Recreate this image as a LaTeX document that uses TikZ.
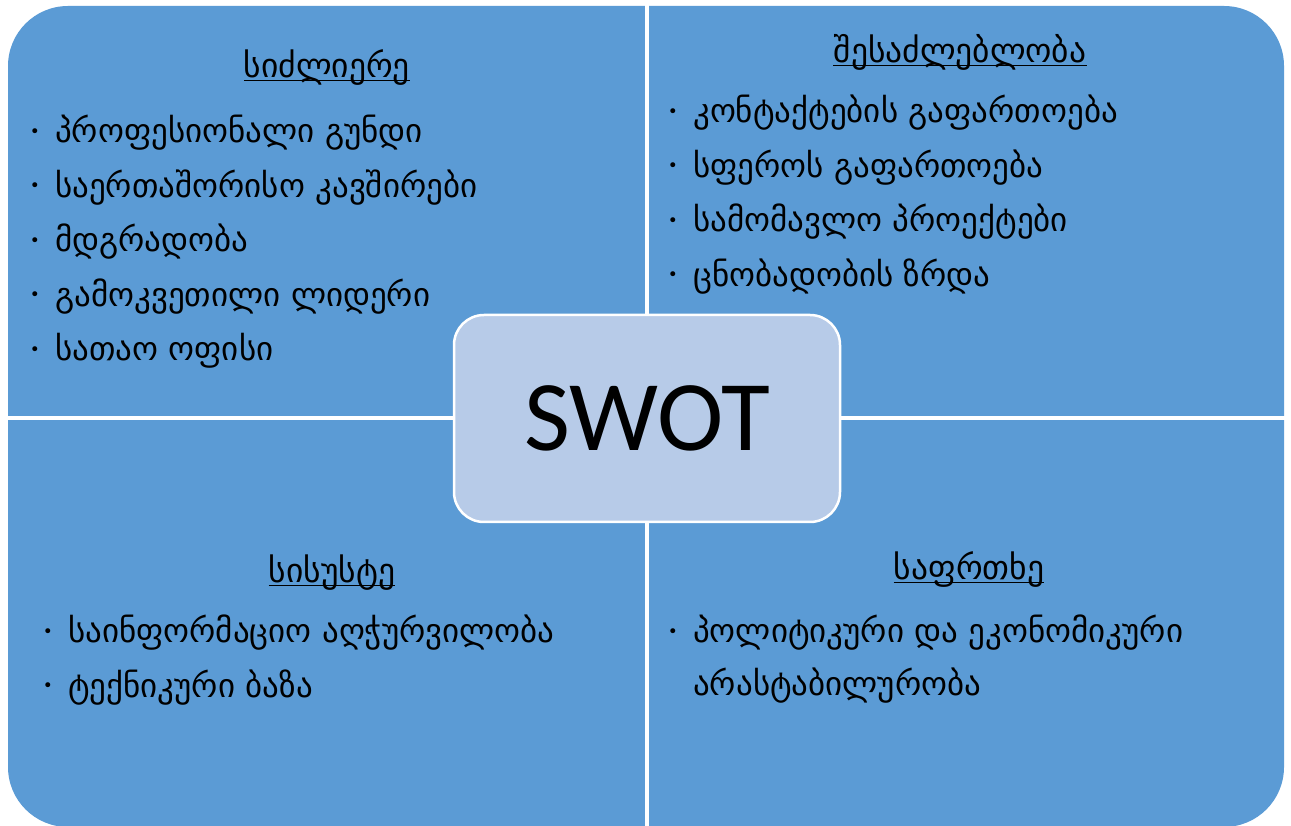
\documentclass[tikz,border=0pt]{standalone}
\usepackage{fontspec}
\usepackage{tikz}
\newfontfamily\geofont{DejaVu Sans}
\newfontfamily\swotfont{Carlito}
\definecolor{quadblue}{HTML}{5B9BD5}
\definecolor{swotfill}{HTML}{B7CBE8}

\begin{document}
\begin{tikzpicture}[x=1pt,y=1pt,
    quad/.style={fill=quadblue},
    swotbox/.style={draw=white,line width=2.5pt,fill=swotfill,rounded corners=30pt,
      minimum width=386pt,minimum height=207pt,font=\swotfont\fontsize{100}{100}\selectfont},
    head/.style={font=\geofont\fontsize{33.5}{33.5}\selectfont,anchor=base,inner sep=0pt},
    bullet/.style={font=\geofont\fontsize{17}{17}\selectfont,inner sep=0pt},
    item/.style={font=\geofont\fontsize{33}{33}\selectfont,anchor=base west,inner sep=0pt,
      label={[bullet,xshift=-15pt]left:•}},
    cont/.style={font=\geofont\fontsize{33}{33}\selectfont,anchor=base west,inner sep=0pt},
    uline/.style={line width=1.3pt}]
  \useasboundingbox (0,0) rectangle (1291,825);
  % four quadrants, outer corners rounded
  \begin{scope}
    \clip[rounded corners=60pt] (8,-2) rectangle (1284,819);
    \fill[quad] (0,409) rectangle (645,825);
    \fill[quad] (649,409) rectangle (1291,825);
    \fill[quad] (0,-2) rectangle (645,405);
    \fill[quad] (649,-2) rectangle (1291,405);
  \end{scope}
  \node[swotbox] (swot) at (647,406.5) {SWOT};
  % headings
  \node[head] (str) at (327,747) {სიძლიერე};
  \node[head] (opp) at (960,762) {შესაძლებლობა};
  \node[head] (weak) at (332,242) {სისუსტე};
  \node[head] (thr) at (969,245) {საფრთხე};
  \foreach \h in {str,opp,weak,thr}
    \draw[uline] ([yshift=-2.5pt]\h.base west) -- ([yshift=-2.5pt]\h.base east);
  % lists
  \foreach \t [count=\i] in {პროფესიონალი გუნდი, საერთაშორისო კავშირები, მდგრადობა,
      გამოკვეთილი ლიდერი, სათაო ოფისი}
    \node[item] (s\i) at (55,736.5-54.5*\i) {\t};
  \foreach \t [count=\i] in {კონტაქტების გაფართოება, სფეროს გაფართოება,
      სამომავლო პროექტები, ცნობადობის ზრდა}
    \node[item] (o\i) at (693,756.5-54.5*\i) {\t};
  \foreach \t [count=\i] in {საინფორმაციო აღჭურვილობა, ტექნიკური ბაზა}
    \node[item] (w\i) at (68,236.5-54.5*\i) {\t};
  \node[item] (t1) at (693,182) {პოლიტიკური და ეკონომიკური};
  \node[cont] (t1b) at ([yshift=-53pt]t1.base west) {არასტაბილურობა};
\end{tikzpicture}
\end{document}
